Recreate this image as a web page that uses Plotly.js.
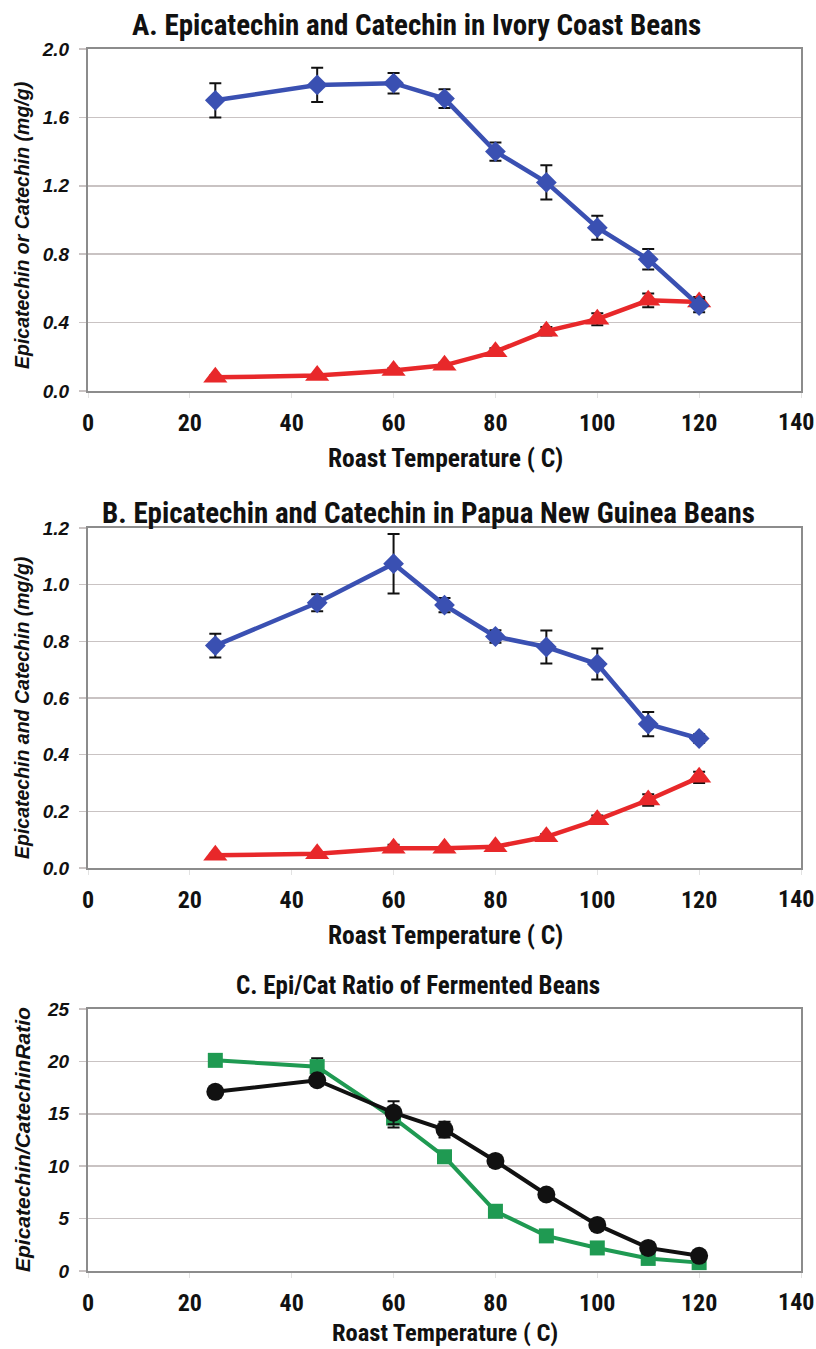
<!DOCTYPE html>
<html><head><meta charset="utf-8">
<script src="https://cdn.plot.ly/plotly-3.0.1.min.js"></script>
<style>html,body{margin:0;padding:0;background:#fff}</style>
</head><body><div id="chart" style="width:816px;height:1349px"></div>
<script>
// ---- data ----
const temps = [25, 45, 60, 70, 80, 90, 100, 110, 120];
const ivoryEpi    = [1.70, 1.79, 1.80, 1.71, 1.40, 1.22, 0.955, 0.77, 0.50];
const ivoryEpiErr = [0.10, 0.10, 0.06, 0.055, 0.053, 0.10, 0.07, 0.06, 0.04];
const ivoryCat    = [0.08, 0.09, 0.12, 0.15, 0.23, 0.35, 0.42, 0.53, 0.52];
const ivoryCatErr = [0.01, 0.01, 0.015, 0.015, 0.02, 0.025, 0.035, 0.04, 0.03];
const pngEpi      = [0.785, 0.936, 1.074, 0.928, 0.817, 0.78, 0.72, 0.508, 0.457];
const pngEpiErr   = [0.042, 0.03, 0.105, 0.025, 0.022, 0.058, 0.055, 0.043, 0.015];
const pngCat      = [0.045, 0.05, 0.07, 0.07, 0.075, 0.11, 0.17, 0.24, 0.32];
const pngCatErr   = [0.005, 0.005, 0.012, 0.005, 0.005, 0.01, 0.015, 0.02, 0.02];
const ratioBlack    = [17.1, 18.2, 15.1, 13.5, 10.5, 7.3, 4.4, 2.2, 1.45];
const ratioBlackErr = [0.3, 0.4, 1.1, 0.75, 0.3, 0.3, 0.3, 0.2, 0.2];
const ratioGreen    = [20.1, 19.5, 14.6, 10.9, 5.7, 3.35, 2.2, 1.2, 0.8];
const ratioGreenErr = [0.2, 0.8, 0.9, 0.3, 0.2, 0.2, 0.2, 0.1, 0.1];
const xTicks = [0, 20, 40, 60, 80, 100, 120, 140];
const xTickLabels = ['0', '20', '40', '60', '80', '100', '120', '140'];
const titleA = 'A. Epicatechin and Catechin in Ivory Coast Beans';
const titleB = 'B. Epicatechin and Catechin in Papua New Guinea Beans';
const titleC = 'C. Epi/Cat Ratio of Fermented Beans';
const yTitleA = 'Epicatechin or Catechin (mg/g)';
const yTitleB = 'Epicatechin and Catechin (mg/g)';
const yTitleC = 'Epicatechin/CatechinRatio';
const xTitle = 'Roast Temperature ( C)';

// ---- styling ----
const W = 816, H = 1349, ML = 88, MR = 15;
const PW = W - ML - MR;
const BLUE = '#3a50b2', RED = '#e8282a', GREEN = '#1f9a52', BLACK = '#111111';
const narrow = 'Liberation Sans Narrow, Arial Narrow, Roboto Condensed, Liberation Sans, Arial, sans-serif';
const wide = 'Liberation Sans, Arial, sans-serif';
const px = x => (x - ML) / PW;
const py = y => (H - y) / H;
const lastTick = xTicks.length - 1;

function errBar(arr) {
  return {type: 'data', array: arr, visible: true, color: BLACK, thickness: 2, width: 6};
}
function tr(x, y, err, color, symbol, size, xa, ya, lw) {
  return {
    x: x, y: y, xaxis: xa, yaxis: ya, type: 'scatter', mode: 'lines+markers',
    line: {color: color, width: lw},
    marker: {color: color, symbol: symbol, size: size},
    error_y: errBar(err), showlegend: false, hoverinfo: 'x+y'
  };
}
const data = [
  tr(temps, ivoryCat, ivoryCatErr, RED, 'triangle-up', 21, 'x', 'y', 4.5),
  tr(temps, ivoryEpi, ivoryEpiErr, BLUE, 'diamond', 16, 'x', 'y', 4.5),
  tr(temps, pngCat, pngCatErr, RED, 'triangle-up', 21, 'x2', 'y2', 4.5),
  tr(temps, pngEpi, pngEpiErr, BLUE, 'diamond', 16, 'x2', 'y2', 4.5),
  tr(temps, ratioGreen, ratioGreenErr, GREEN, 'square', 15, 'x3', 'y3', 4),
  tr(temps, ratioBlack, ratioBlackErr, BLACK, 'circle', 18, 'x3', 'y3', 4)
];

const tickFont = {family: narrow, size: 24, color: '#111', weight: 'bold'};
function xax(anchor) {
  // the last label (at the right page edge) is placed as an annotation so it stays inside the page
  return {
    anchor: anchor, domain: [0, 1], range: [0, 140], tickvals: xTicks,
    ticktext: xTickLabels.map((t, i) => i === lastTick ? '' : t),
    showgrid: false, zeroline: false, showline: true, mirror: true,
    linecolor: '#8c8c8c', linewidth: 2,
    ticks: 'outside', ticklen: 5, tickcolor: '#e2e2e2', tickwidth: 1,
    ticklabelstandoff: 4,
    tickfont: tickFont
  };
}
function yax(anchor, dom, range, dtick, fmt) {
  return {
    anchor: anchor, domain: dom, range: range, dtick: dtick, tick0: 0, tickformat: fmt,
    showgrid: true, gridcolor: '#c9c3c3', gridwidth: 1.5,
    zeroline: false, showline: true, mirror: true,
    linecolor: '#8c8c8c', linewidth: 2,
    ticks: 'outside', ticklen: 7, tickcolor: '#c9c3c3', tickwidth: 1.5,
    ticklabelstandoff: 6,
    tickfont: {family: wide, size: 19, color: '#111', weight: 'bold', style: 'italic'}
  };
}

function ann(text, x, y, size, fam, opts) {
  return Object.assign({
    text: text, xref: 'paper', yref: 'paper', x: px(x), y: py(y),
    xanchor: 'center', yanchor: 'middle', showarrow: false,
    font: {family: fam, size: size, color: '#111', weight: 'bold'}
  }, opts || {});
}
const yFont = s => ({family: wide, size: s, color: '#111', weight: 'bold', style: 'italic'});
function edgeTick(xa, y) {
  return {text: xTickLabels[lastTick], xref: xa, yref: 'paper', x: xTicks[lastTick], y: py(y),
    xanchor: 'right', yanchor: 'middle', xshift: 15, showarrow: false, font: tickFont};
}

const layout = {
  width: W, height: H, margin: {l: ML, r: MR, t: 0, b: 0},
  paper_bgcolor: '#ffffff', plot_bgcolor: '#ffffff', showlegend: false,
  xaxis: xax('y'), xaxis2: xax('y2'), xaxis3: xax('y3'),
  yaxis: yax('x', [py(391), py(49)], [0, 2.0], 0.4, '.1f'),
  yaxis2: yax('x2', [py(868), py(528)], [0, 1.2], 0.2, '.1f'),
  yaxis3: yax('x3', [py(1271), py(1009)], [0, 25], 5, 'd'),
  annotations: [
    ann(titleA, 416, 25, 29, narrow),
    ann(titleB, 428, 513, 29, narrow),
    ann(titleC, 418, 985, 25, narrow),
    ann(xTitle, 445, 458, 25.5, narrow),
    ann(xTitle, 445, 935, 25.5, narrow),
    ann(xTitle, 445, 1332, 24.5, narrow),
    ann(yTitleA, 22, 226, 19, wide, {textangle: -90, font: yFont(19.5)}),
    ann(yTitleB, 22, 708, 19, wide, {textangle: -90, font: yFont(19.5)}),
    ann(yTitleC, 22, 1140, 20, wide, {textangle: -90, font: yFont(21)}),
    edgeTick('x', 422), edgeTick('x2', 899), edgeTick('x3', 1302)
  ]
};

Plotly.newPlot('chart', data, layout, {staticPlot: true, displayModeBar: false});
</script>
</body></html>
